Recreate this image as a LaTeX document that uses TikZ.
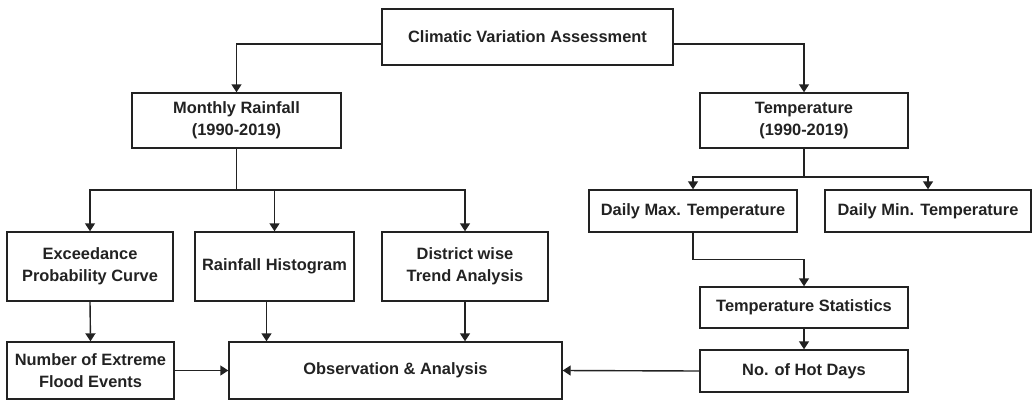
\documentclass[tikz,border=0pt]{standalone}
\usepackage{fontspec}
\setmainfont{Liberation Sans}
\usetikzlibrary{arrows.meta,positioning}
\definecolor{ink}{HTML}{222222}

\tikzset{
    box/.style={draw=ink, text=ink, line width=1.4pt, align=center, inner sep=0pt,
        font=\bfseries\fontsize{16.4}{21.5}\selectfont},
    link/.style={draw=ink, line width=1.4pt},
    flow/.style={link, -{Triangle[width=10pt,length=8pt]}}
}

\begin{document}
\begin{tikzpicture}[x=1pt,y=-1pt]
    \useasboundingbox (0,0) rectangle (1032,402);

    % Top
    \node[box, minimum width=291pt, minimum height=56pt] (top) at (527.5,37) {Climatic Variation Assessment};

    % Rainfall branch
    \node[box, minimum width=209pt, minimum height=55pt] (rain) at (236.5,120.5) {Monthly Rainfall\\(1990-2019)};
    \node[box, minimum width=166pt, minimum height=69pt] (exc) at (90,266.5) {Exceedance\\Probability Curve};
    \node[box, minimum width=159pt, minimum height=69pt] (hist) at (274.5,266.5) {Rainfall Histogram};
    \node[box, minimum width=166pt, minimum height=69pt] (dist) at (465,266.5) {District wise\\Trend Analysis};
    \node[box, minimum width=167pt, minimum height=57pt] (flood) at (90.5,370.5) {Number of Extreme\\Flood Events};
    \node[box, minimum width=333pt, minimum height=57pt] (obs) at (395.5,370.5) {Observation \& Analysis};

    % Temperature branch
    \node[box, minimum width=208pt, minimum height=55pt] (temp) at (804,120.5) {Temperature\\(1990-2019)};
    \node[box, minimum width=208pt, minimum height=42pt] (dmax) at (693,211) {Daily Max. Temperature};
    \node[box, minimum width=206pt, minimum height=42pt] (dmin) at (928,211) {Daily Min. Temperature};
    \node[box, minimum width=208pt, minimum height=41pt] (tstat) at (804,307.5) {Temperature Statistics};
    \node[box, minimum width=208pt, minimum height=42pt] (hot) at (804,371) {No. of Hot Days};

    % Connectors from the top
    \draw[flow] ([yshift=-7pt]top.west) -| (rain.north);
    \draw[flow] ([yshift=-7pt]top.east) -| (temp.north);

    % Rainfall connectors
    \coordinate (rsplit) at (236.5,190);
    \draw[link] (rain.south) -- (rsplit);
    \foreach \n in {exc,hist,dist} {
        \draw[flow] (rsplit) -| (\n.north);
    }
    \draw[flow] (exc.south) -- (flood.north);
    \draw[flow] ([xshift=-8pt]hist.south) -- ([xshift=-8pt]hist.south |- obs.north);
    \draw[flow] (dist.south) -- (dist.south |- obs.north);
    \draw[flow] (flood.east) -- (obs.west);

    % Temperature connectors
    \coordinate (tsplit) at (804,177);
    \draw[link] (temp.south) -- (tsplit);
    \foreach \n in {dmax,dmin} {
        \draw[flow] (tsplit) -| (\n.north);
    }
    \draw[flow] (dmax.south) -- ++(0,27) -| (tstat.north);
    \draw[flow] (tstat.south) -- (hot.north);
    \draw[flow] (hot.west) -- (obs.east);
\end{tikzpicture}
\end{document}
